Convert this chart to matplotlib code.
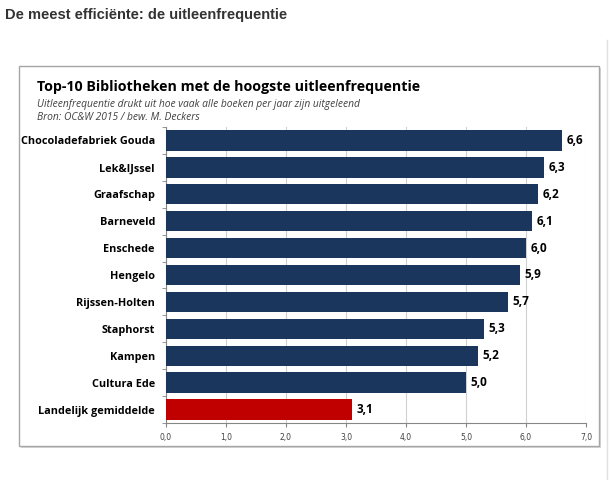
import matplotlib
matplotlib.use("Agg")
import matplotlib.pyplot as plt
from matplotlib.patches import Rectangle

categories = ["Chocoladefabriek Gouda", "Lek&IJssel", "Graafschap", "Barneveld", "Enschede",
              "Hengelo", "Rijssen-Holten", "Staphorst", "Kampen", "Cultura Ede", "Landelijk gemiddelde"]
values = [6.6, 6.3, 6.2, 6.1, 6.0, 5.9, 5.7, 5.3, 5.2, 5.0, 3.1]
xticks = [0, 1, 2, 3, 4, 5, 6, 7]

W, H = 610, 480
fig = plt.figure(figsize=(W / 100, H / 100), dpi=100)
fig.patch.set_facecolor("white")

def fx(px): return px / W
def fy(py): return 1 - py / H

# page title
fig.text(fx(5), fy(15), "De meest efficiënte: de uitleenfrequentie", family="Liberation Sans",
         fontsize=10.5, fontweight="bold", color="#333333", va="center", ha="left")

# chart box with shadow
fig.patches.append(Rectangle((fx(21), fy(448)), fx(580), fy(68) - fy(448), transform=fig.transFigure,
                             facecolor="#d8d8d8", edgecolor="none", zorder=0))
fig.patches.append(Rectangle((fx(19), fy(446)), fx(580), fy(66) - fy(446), transform=fig.transFigure,
                             facecolor="white", edgecolor="#a6a6a6", linewidth=1, zorder=1))
# faint page line at right
fig.lines.append(plt.Line2D([fx(607), fx(607)], [0, fy(40)], transform=fig.transFigure, color="#e0e0e0", lw=1))

fig.text(fx(37), fy(87), "Top-10 Bibliotheken met de hoogste uitleenfrequentie", family="Open Sans",
         fontsize=10.3, fontweight="bold", color="black", va="center", ha="left")
fig.text(fx(37), fy(104), "Uitleenfrequentie drukt uit hoe vaak alle boeken per jaar zijn uitgeleend", family="Open Sans",
         fontsize=7.4, fontstyle="italic", color="#404040", va="center", ha="left")
fig.text(fx(37), fy(118), "Bron: OC&W 2015 / bew. M. Deckers", family="Open Sans",
         fontsize=7.4, fontstyle="italic", color="#404040", va="center", ha="left")

ax = fig.add_axes([fx(166), fy(423), fx(586) - fx(166), fy(127) - fy(423)])
ax.set_zorder(2)
ax.patch.set_alpha(0)
y = list(range(len(categories)))
colors = ["#1b365d"] * (len(categories) - 1) + ["#c00000"]
ax.barh(y, values, height=0.76, color=colors, zorder=3)
ax.set_ylim(len(categories) - 0.5, -0.5)
ax.set_xlim(0, 7)
ax.set_xticks(xticks)
ax.set_xticklabels([f"{t:.1f}".replace(".", ",") for t in xticks], fontsize=5.5, color="#404040", family="DejaVu Sans")
ax.set_yticks(y)
ax.set_yticklabels(categories, fontsize=7.8, fontweight="bold", family="Open Sans", color="black")
ax.tick_params(axis="y", length=0, pad=8)
ax.set_yticks([i + 0.5 for i in range(-1, len(categories))], minor=True)
ax.tick_params(axis="y", which="minor", length=3, color="#868686")
ax.tick_params(axis="x", length=3, color="#868686", pad=4)
ax.grid(axis="x", color="#d0d0d0", linewidth=0.8, zorder=0)
for s in ["top", "right"]:
    ax.spines[s].set_visible(False)
for s in ["left", "bottom"]:
    ax.spines[s].set_color("#868686")
    ax.spines[s].set_linewidth(0.8)
for yi, v in zip(y, values):
    ax.text(v + 0.08, yi, f"{v:.1f}".replace(".", ","), va="center", ha="left", fontsize=8.5,
            fontweight="bold", family="Open Sans", color="black", zorder=4)

fig.savefig("out.png", dpi=100, facecolor="white")
